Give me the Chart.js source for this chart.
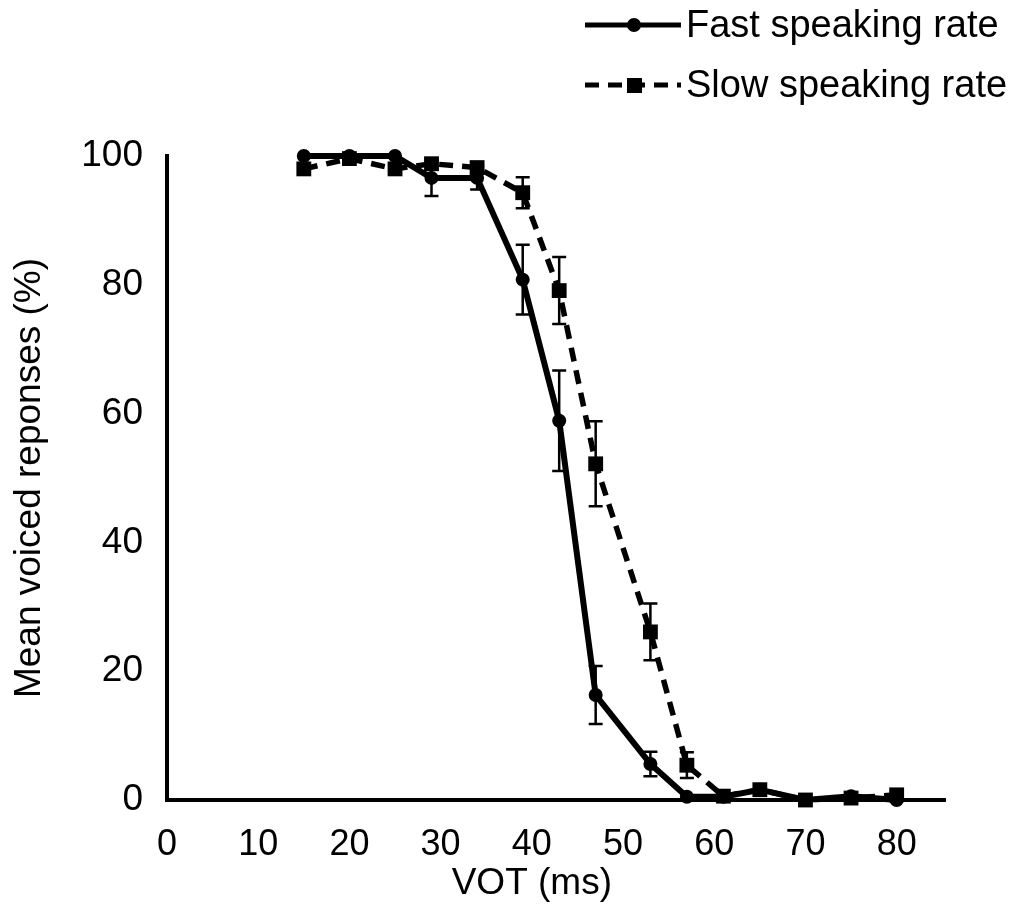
<!DOCTYPE html>
<html>
<head>
<meta charset="utf-8">
<script src="https://cdn.jsdelivr.net/npm/chart.js@4"></script>
<style>
  body { margin: 0; background: #fff; }
  #wrap { width: 1015px; height: 924px; }
</style>
</head>
<body>
<div id="wrap"><canvas id="myChart" width="1015" height="924"></canvas></div>
<script>
// VOT steps (ms) shared by both conditions
var vot = [15, 20, 25, 29, 34, 39, 43, 47, 53, 57, 61, 65, 70, 75, 80];

var fastMean = [100, 100, 100, 96.6, 96.6, 80.8, 58.9, 16.3, 5.6, 0.5, 0.5, 1.6, 0, 0.6, 0];
var fastErr  = [0, 0, 0, 2.8, 1.8, 5.4, 7.8, 4.5, 1.9, 0, 0, 0, 0, 0, 0];

var slowMean = [98, 99.6, 98, 98.8, 98.2, 94.3, 79.1, 52.2, 26.1, 5.4, 0.6, 1.6, 0, 0.3, 0.8];
var slowErr  = [0, 0, 0, 0, 0, 2.4, 5.2, 6.6, 4.4, 2, 0, 0, 0, 0, 0];

var xTicks = [0, 10, 20, 30, 40, 50, 60, 70, 80];
var yTicks = [0, 20, 40, 60, 80, 100];
var xTitle = 'VOT (ms)';
var yTitle = 'Mean voiced reponses (%)';

var FONT = '"Liberation Sans", Arial, sans-serif';

function points(ys) {
    return vot.map(function (x, i) { return {x: x, y: ys[i]}; });
}

// error bars, drawn under the markers
var errorBars = {
    id: 'errorBars',
    beforeDatasetsDraw: function (chart) {
        var ctx = chart.ctx,
            xs = chart.scales.x,
            ys = chart.scales.y;
        ctx.save();
        ctx.strokeStyle = '#000';
        ctx.lineWidth = 2.5;
        chart.data.datasets.forEach(function (ds) {
            ds.errors.forEach(function (e, i) {
                if (!e) return;
                var px = xs.getPixelForValue(vot[i]),
                    top = ys.getPixelForValue(ds.data[i].y + e),
                    bot = ys.getPixelForValue(ds.data[i].y - e);
                ctx.beginPath();
                ctx.moveTo(px, top); ctx.lineTo(px, bot);
                ctx.moveTo(px - 7, top); ctx.lineTo(px + 7, top);
                ctx.moveTo(px - 7, bot); ctx.lineTo(px + 7, bot);
                ctx.stroke();
            });
        });
        ctx.restore();
    }
};

// legend in the top right corner + x title centred under 40 ms like the original
var sideLegend = {
    id: 'sideLegend',
    afterDraw: function (chart) {
        var ctx = chart.ctx,
            rows = [25, 85];
        ctx.save();
        chart.data.datasets.forEach(function (ds, k) {
            var y = rows[k];
            ctx.strokeStyle = '#000';
            ctx.fillStyle = '#000';
            ctx.lineWidth = 5;
            ctx.setLineDash(ds.borderDash || []);
            ctx.beginPath();
            ctx.moveTo(585, y); ctx.lineTo(681, y);
            ctx.stroke();
            ctx.setLineDash([]);
            if (ds.pointStyle === 'rect') {
                ctx.fillRect(627, y - 7, 15, 15);
            } else {
                ctx.beginPath();
                ctx.arc(634, y, 7, 0, Math.PI * 2);
                ctx.fill();
            }
            ctx.font = '38px ' + FONT;
            ctx.textBaseline = 'middle';
            ctx.textAlign = 'left';
            ctx.fillText(ds.label, 686, y + 2);
        });
        ctx.font = '37px ' + FONT;
        ctx.textAlign = 'center';
        ctx.textBaseline = 'middle';
        ctx.fillText(xTitle, chart.scales.x.getPixelForValue(40), 884);
        ctx.restore();
    }
};

var ctx = document.getElementById('myChart').getContext('2d');
var myChart = new Chart(ctx, {
    type: 'line',
    data: {
        datasets: [
            {
                label: 'Fast speaking rate',
                data: points(fastMean),
                errors: fastErr,
                borderColor: '#000',
                backgroundColor: '#000',
                borderWidth: 6,
                pointStyle: 'circle',
                pointRadius: 7,
                pointHoverRadius: 7,
                pointBorderWidth: 0,
                tension: 0,
                clip: false
            },
            {
                label: 'Slow speaking rate',
                data: points(slowMean),
                errors: slowErr,
                borderColor: '#000',
                backgroundColor: '#000',
                borderWidth: 5.5,
                borderDash: [14, 9],
                pointStyle: 'rect',
                pointRadius: 10.5,
                pointHoverRadius: 10.5,
                pointBorderWidth: 0,
                tension: 0,
                clip: false
            }
        ]
    },
    options: {
        responsive: false,
        animation: false,
        events: [],
        layout: { padding: { top: 156, right: 70, bottom: 0, left: 0 } },
        plugins: {
            legend: { display: false },
            tooltip: { enabled: false }
        },
        scales: {
            x: {
                type: 'linear',
                min: 0,
                max: 85.3,
                afterFit: function (s) { s.height = 124; },
                afterBuildTicks: function (s) { s.ticks = xTicks.map(function (v) { return {value: v}; }); },
                grid: { display: false, drawTicks: false },
                border: { display: true, color: '#000', width: 4 },
                ticks: { color: '#000', padding: 23, font: { family: FONT, size: 36 } },
                title: { display: false }
            },
            y: {
                min: 0,
                max: 100,
                afterFit: function (s) { s.width = 167; },
                afterBuildTicks: function (s) { s.ticks = yTicks.map(function (v) { return {value: v}; }); },
                grid: { display: false, drawTicks: false },
                border: { display: true, color: '#000', width: 4 },
                ticks: { color: '#000', padding: 24, font: { family: FONT, size: 37 } },
                title: {
                    display: true,
                    text: yTitle,
                    color: '#000',
                    font: { family: FONT, size: 37 },
                    padding: { top: 8, bottom: 0 }
                }
            }
        }
    },
    plugins: [errorBars, sideLegend]
});
</script>
</body>
</html>
